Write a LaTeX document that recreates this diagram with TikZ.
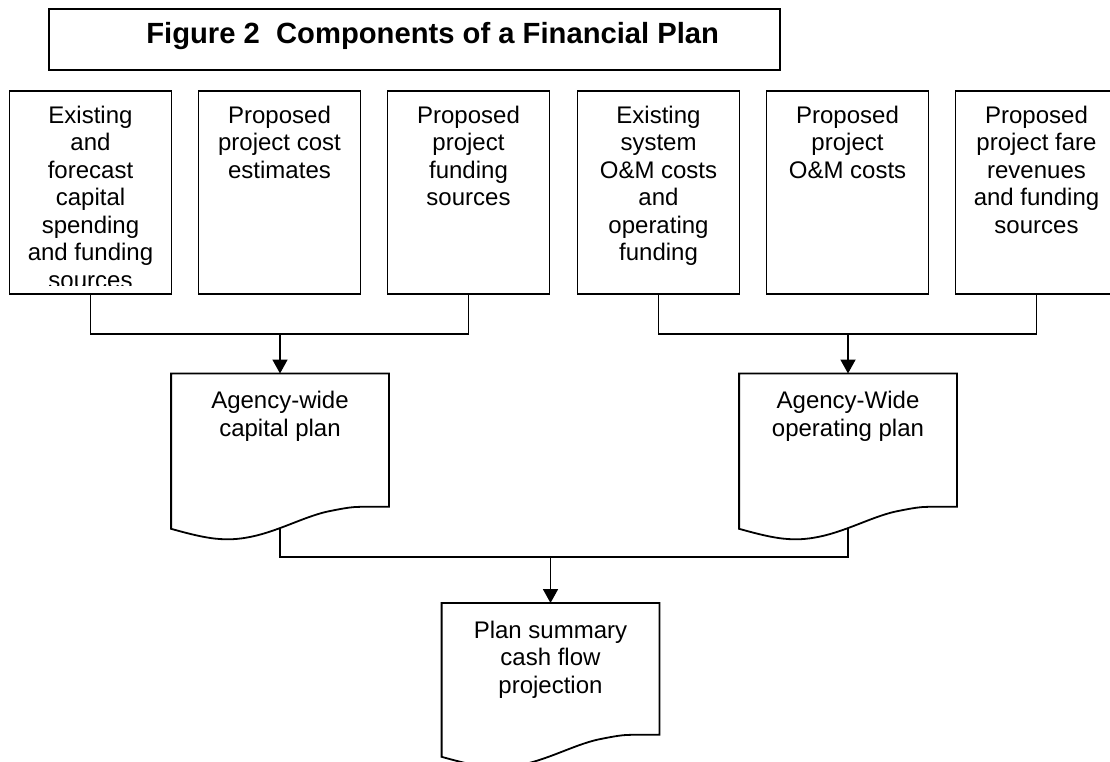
\documentclass[tikz,border=0pt]{standalone}
\usepackage{fontspec}
\setmainfont{Liberation Sans}
\usetikzlibrary{arrows.meta,calc}

% outline of a flowchart "document" shape laid over a named rectangle node
\newcommand{\docoutline}[1]{%
  \draw[shift={(#1.south west)}, line join=miter]
    (0,0) -- (#1.north west) -- (#1.north east) -- ([yshift=22pt]#1.south east)
    -- (190,22) .. controls (182,22) and (175,21) .. (160,18)
    .. controls (128,12) and (95,-11) .. (55,-10.5)
    .. controls (40,-10.3) and (25,-7) .. cycle;}

\begin{document}
\begin{tikzpicture}[x=1pt,y=1pt,
  line width=1.8pt,
  inbox/.style={draw, rectangle, minimum width=162pt, minimum height=203pt,
    inner sep=0pt, anchor=north},
  docarea/.style={rectangle, minimum width=216pt, inner sep=0pt, anchor=north},
  lbl/.style={align=center, inner sep=0pt, anchor=north,
    font=\fontsize{24pt}{27.5pt}\selectfont},
  arr/.style={-{Triangle[width=15pt,length=14pt]}},
]
\useasboundingbox (0,0) rectangle (1110,-761);
\fill[white] (0,0) rectangle (1110,-761);

% title
\node[draw, minimum width=731pt, minimum height=61pt, inner sep=0pt] (title) at (414.8,-39.5) {};
\node[anchor=base, inner sep=0pt, font=\bfseries\fontsize{29.2pt}{35pt}\selectfont]
  (titletext) at (432.7,-43) {Figure 2\ \ Components of a Financial Plan};

% input boxes
\foreach \n/\x in {b1/90.5, b2/279.5, b3/468.5, b4/658.5, b5/847.5, b6/1036.5}
  \node[inbox] (\n) at (\x,-90) {};

\begin{scope}
  \clip (b1.north west) rectangle ([yshift=9pt]b1.south east);
  \node[lbl] (t1) at ([yshift=-14.8pt]b1.north)
    {Existing\\and\\forecast\\capital\\spending\\and funding\\sources};
\end{scope}
\node[lbl] (t2) at ([yshift=-14.8pt]b2.north) {Proposed\\project cost\\estimates};
\node[lbl] (t3) at ([yshift=-14.8pt]b3.north) {Proposed\\project\\funding\\sources};
\node[lbl] (t4) at ([yshift=-14.8pt]b4.north) {Existing\\system\\O\&M costs\\and\\operating\\funding};
\node[lbl] (t5) at ([yshift=-14.8pt]b5.north) {Proposed\\project\\O\&M costs};
\node[lbl] (t6) at ([yshift=-14.8pt]b6.north) {Proposed\\project fare\\revenues\\and funding\\sources};

% plan documents
\node[docarea, minimum height=153.5pt] (d1) at (280,-373.5) {};
\node[docarea, minimum height=153.5pt] (d2) at (848,-373.5) {};
\node[docarea, minimum height=152pt] (d3) at (550.5,-603) {};
\docoutline{d1}
\docoutline{d2}
\docoutline{d3}
\node[lbl] (t7) at ([yshift=-16.8pt]d1.north) {Agency-wide\\capital plan};
\node[lbl] (t8) at ([yshift=-16.8pt]d2.north) {Agency-Wide\\operating plan};
\node[lbl] (t9) at ([yshift=-16.8pt]d3.north) {Plan summary\\cash flow\\projection};

% connectors
\coordinate (busL) at (0,-334);
\coordinate (busR) at (0,-334);
\coordinate (busB) at (0,-557);
\draw (b1.south) -- (b1.south |- busL) -| (b3.south);
\draw[arr] (d1.north |- busL) -- (d1.north);
\draw (b4.south) -- (b4.south |- busR) -| (b6.south);
\draw[arr] (d2.north |- busR) -- (d2.north);
\draw ([yshift=1pt]d1.south) -- (d1.south |- busB) -| ([yshift=1pt]d2.south);
\draw[arr] (d3.north |- busB) -- (d3.north);
\end{tikzpicture}
\end{document}
